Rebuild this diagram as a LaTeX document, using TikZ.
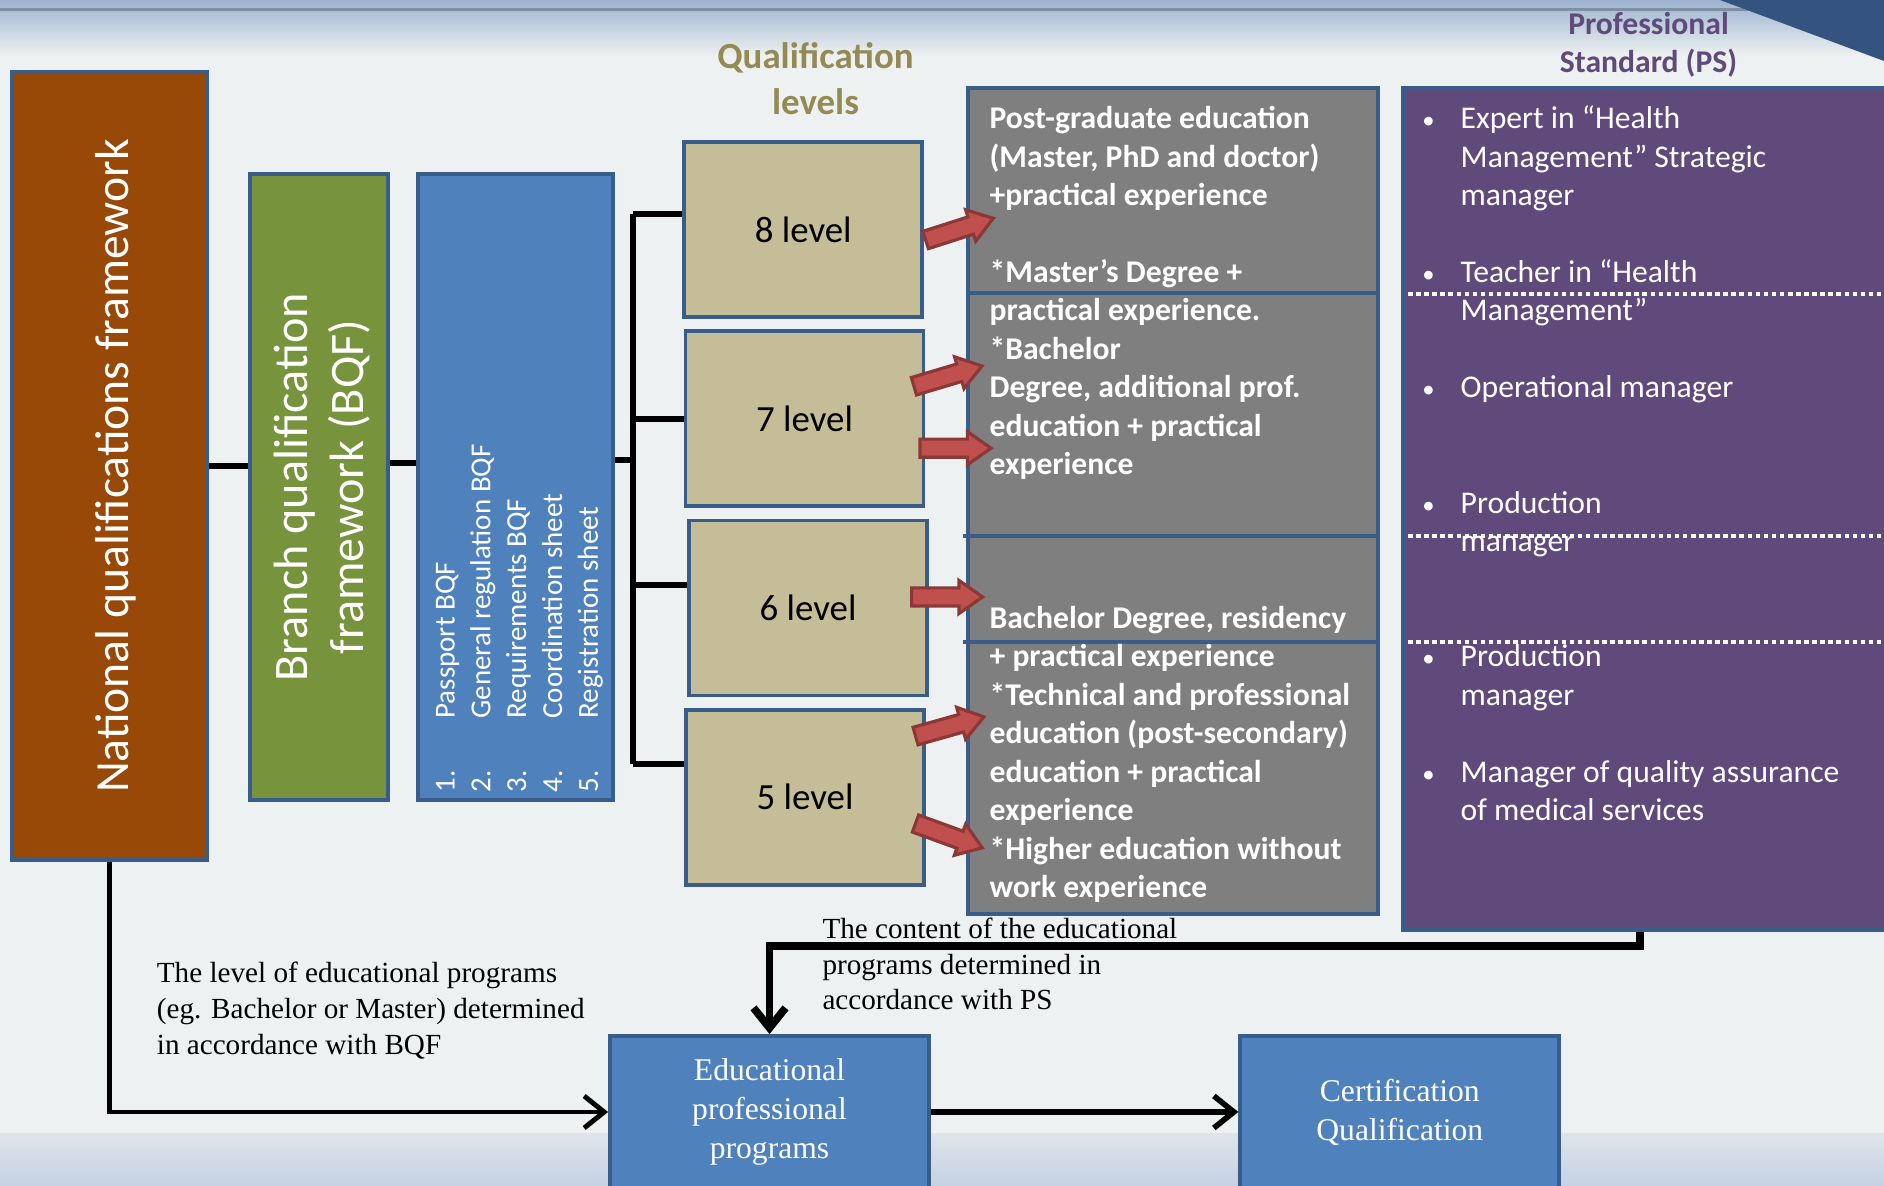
\documentclass[tikz,border=0pt]{standalone}
\usepackage{fontspec}
\setmainfont{Carlito}
\newfontfamily\serifrm{Liberation Serif}
\usetikzlibrary{positioning,arrows.meta,calc,shapes.arrows}
\definecolor{slidebg}{HTML}{EEF1F1}
\definecolor{bandblue}{HTML}{9CB3CF}
\definecolor{navymesh}{HTML}{34547F}
\definecolor{nqforange}{HTML}{984807}
\definecolor{bqfgreen}{HTML}{77933C}
\definecolor{docblue}{HTML}{4F81BD}
\definecolor{levtan}{HTML}{C4BD97}
\definecolor{edugray}{HTML}{7F7F7F}
\definecolor{pspurple}{HTML}{604A7B}
\definecolor{edgeblue}{HTML}{385D8A}
\definecolor{titleolive}{HTML}{948A54}
\definecolor{arrowred}{HTML}{C0504D}
\definecolor{arrowrim}{HTML}{8C3836}
\newcommand{\pbul}{\llap{{\fontsize{7}{7}\selectfont\textbullet}\hspace{2.6mm}}}
\tikzset{
  panel/.style={draw=edgeblue, line width=1.1pt, inner sep=0pt},
  levelbox/.style={panel, fill=levtan, minimum width=2.38cm, minimum height=1.75cm,
    font=\fontsize{10.5}{12.6}\selectfont},
  progbox/.style={panel, fill=docblue, minimum width=3.19cm, minimum height=1.52cm,
    text=white, align=center, font=\serifrm\fontsize{9}{11.1}\selectfont},
  bodytext/.style={text=white, align=left, inner sep=0pt, anchor=base west},
  caption/.style={align=left, inner sep=0pt, anchor=base west,
    font=\serifrm\fontsize{8.3}{10.2}\selectfont},
  headtext/.style={align=center, inner sep=0pt, anchor=base},
  link/.style={line width=1.7pt},
  flowarrow/.style={line width=1.4pt, -{Straight Barb[length=2mm, width=3.2mm]}},
  redarrow/.style={single arrow, draw=arrowrim, fill=arrowred, line width=0.9pt,
    inner xsep=0pt, inner ysep=0.75mm, minimum height=0.71cm,
    single arrow head extend=0.75mm, single arrow tip angle=70, anchor=tail},
  dotsep/.style={white, line width=1.1pt, dash pattern=on 1.3pt off 1pt},
}

\begin{document}
\begin{tikzpicture}
\useasboundingbox (0,0) rectangle (18.84,11.86);
\clip (0,0) rectangle (18.84,11.86);
% slide background
\fill[slidebg] (0,0) rectangle (18.84,11.86);
\shade[top color=bandblue, bottom color=slidebg] (0,11.3) rectangle (18.84,11.86);
\fill[bandblue!80!black] (0,11.75) rectangle (18.84,11.78);
\shade[top color=slidebg!80!bandblue, bottom color=bandblue!60] (0,0) rectangle (18.84,0.52);
\fill[navymesh] (17.2,11.86) -- (18.84,11.86) -- (18.84,11.25) -- cycle;
% headings
\node[headtext, text=titleolive, font=\bfseries\fontsize{10.5}{13}\selectfont] (qltitle)
  at (8.155,10.715) {Qualification\\levels};
\node[headtext, text=pspurple, font=\bfseries\fontsize{9}{10.94}\selectfont] (pstitle)
  at (16.485,11.13) {Professional\\Standard (PS)};
% frameworks
\node[panel, fill=nqforange, minimum width=1.947cm, minimum height=7.882cm, text=white,
  font=\fontsize{13.55}{16}\selectfont] (nqf) at (1.094,7.20)
  {\hspace*{1.2mm}\rotatebox{90}{National qualifications framework}};
\node[panel, fill=bqfgreen, minimum width=1.382cm, minimum height=6.26cm, text=white,
  font=\fontsize{13.7}{15.9}\selectfont] (bqf) at (3.19,6.988)
  {\hspace*{1mm}\rotatebox{90}{\begin{tabular}{@{}c@{}}Branch qualification\\framework (BQF)\end{tabular}}};
\node[panel, fill=docblue, minimum width=1.947cm, minimum height=6.26cm] (docs) at (5.155,6.988) {};
\node[rotate=90, anchor=north west, inner sep=0pt, text=white, align=left,
  font=\fontsize{8.25}{10.2}\selectfont] (doclist) at (4.35,3.93)
  {\makebox[21pt][l]{1.}Passport BQF\\
   \makebox[21pt][l]{2.}General regulation BQF\\
   \makebox[21pt][l]{3.}Requirements BQF\\
   \makebox[21pt][l]{4.}Coordination sheet\\
   \makebox[21pt][l]{5.}Registration sheet};
% qualification levels
\node[levelbox] (lv8) at (8.032,9.565) {8 level};
\node[levelbox] (lv7) at (8.045,7.673) {7 level};
\node[levelbox] (lv6) at (8.081,5.78) {6 level};
\node[levelbox] (lv5) at (8.051,3.888) {5 level};
\coordinate (brtop) at (6.33,9.72);
\coordinate (brbot) at (6.33,4.22);
\draw[link] (nqf.east) -- (nqf.east -| bqf.west);
\draw[link] ([yshift=2.4mm]bqf.east) -- ([yshift=2.4mm]bqf.east -| docs.west);
\draw[link] ([yshift=2.7mm]docs.east) -- ([yshift=2.7mm]docs.east -| brtop);
\draw[link] (brtop) -- (brbot);
\draw[link] (brtop) -- (brtop -| lv8.west);
\draw[link] (lv7.west) -- (lv7.west -| brtop);
\draw[link] ([yshift=2.3mm]lv6.west) -- ([yshift=2.3mm]lv6.west -| brtop);
\draw[link] (brbot) -- (brbot -| lv5.west);
% education requirements
\node[panel, fill=edugray, minimum width=4.097cm, minimum height=8.266cm] (edureq) at (11.7325,6.85) {};
\draw[edgeblue, line width=1.1pt] (9.684,8.928) -- (13.781,8.928);
\draw[edgeblue, line width=1.1pt] (9.63,6.501) -- (13.781,6.501);
\draw[edgeblue, line width=1.1pt] (9.63,5.444) -- (13.781,5.444);
\node[bodytext, font=\bfseries\fontsize{9}{10.94}\selectfont] (edutext) at (9.889,2.884)
  {Post-graduate education\\
   (Master, PhD and doctor)\\
   +practical experience\\[10.94pt]
   *Master’s Degree +\\
   practical experience.\\
   *Bachelor\\
   Degree, additional prof.\\
   education + practical\\
   experience\\[32.82pt]
   Bachelor Degree, residency\\
   + practical experience\\
   *Technical and professional\\
   education (post-secondary)\\
   education + practical\\
   experience\\
   *Higher education without\\
   work experience};
% professional standard
\node[panel, fill=pspurple, minimum width=5.166cm, minimum height=8.423cm] (ps) at (16.617,6.7715) {};
\draw[dotsep] (14.08,8.916) -- (18.84,8.916);
\draw[dotsep] (14.08,6.501) -- (18.84,6.501);
\draw[dotsep] (14.08,5.444) -- (18.84,5.444);
\node[bodytext, font=\fontsize{9}{10.94}\selectfont] (pslist) at (14.60,3.653)
  {\pbul Expert in “Health\\
   Management” Strategic\\
   manager\\[10.94pt]
   \pbul Teacher in “Health\\
   Management”\\[10.94pt]
   \pbul Operational manager\\[21.88pt]
   \pbul Production\\
   manager\\[21.88pt]
   \pbul Production\\
   manager\\[10.94pt]
   \pbul Manager of quality assurance\\
   of medical services};
% level -> education arrows
\node[redarrow, rotate=17.8] (ar8) at ([yshift=-1.1mm]lv8.east) {};
\node[redarrow, rotate=16.6] (ar7a) at ([xshift=-1.3mm, yshift=3.2mm]lv7.east) {};
\node[redarrow] (ar7b) at ([xshift=-0.7mm, yshift=-2.95mm]lv7.east) {};
\node[redarrow] (ar6) at ([xshift=-1.9mm, yshift=1.1mm]lv6.east) {};
\node[redarrow, rotate=15.7] (ar5a) at ([xshift=-1.2mm, yshift=6.07mm]lv5.east) {};
\node[redarrow, rotate=-20] (ar5b) at ([xshift=-1.2mm, yshift=-2.58mm]lv5.east) {};
% programs and certification
\node[progbox] (epp) at (7.695,0.74) {Educational\\professional\\programs};
\node[progbox] (cert) at (13.998,0.74) {Certification\\Qualification};
\draw[flowarrow] (nqf.south) |- (epp.west);
\draw[flowarrow, line width=1.6pt] (epp.east) -- (cert.west);
\draw[flowarrow, line width=2.2pt] ([xshift=-2.2mm]ps.south) -- ++(0,-0.14) -| (epp.north);
\node[caption] (pscap) at (8.218,1.761)
  {The content of the educational\\programs determined in\\accordance with PS};
\node[caption] (bqfcap) at (1.562,1.317)
  {The level of educational programs\\(eg. Bachelor or Master) determined\\in accordance with BQF};
\end{tikzpicture}
\end{document}
